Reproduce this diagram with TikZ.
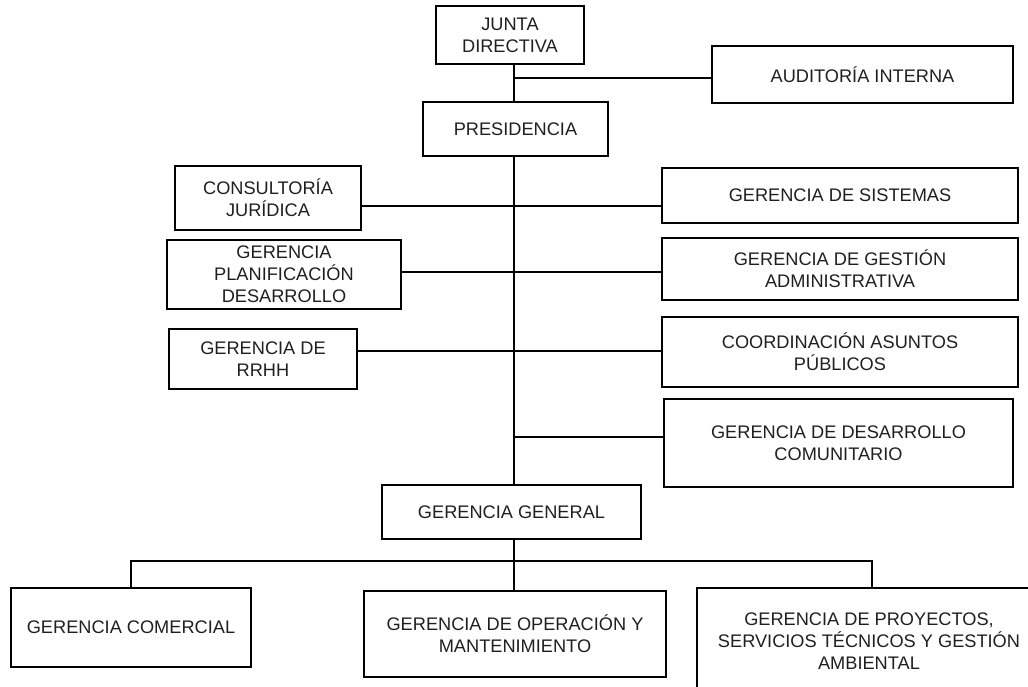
\documentclass[tikz,border=0pt]{standalone}
\usepackage{fontspec}
\setmainfont{Liberation Sans}
\begin{document}
\begin{tikzpicture}[x=1pt,y=-1pt,
  box/.style={draw, line width=2pt, align=center, inner sep=0pt,
    font=\fontsize{18.2}{22}\selectfont, text=black!88},
  conn/.style={line width=1.6pt}]
\useasboundingbox (0,0) rectangle (1028,687);
\clip (0,0) rectangle (1028,687);
% top
\node[box, minimum width=148pt, minimum height=58pt] (junta) at (510,35) {JUNTA\\DIRECTIVA};
\node[box, minimum width=185pt, minimum height=54pt] (pres) at (515.5,129) {PRESIDENCIA};
\node[box, minimum width=301pt, minimum height=57pt] (audit) at (862.5,74.5) {AUDITORÍA INTERNA};
% left column
\node[box, minimum width=186pt, minimum height=64pt] (consult) at (268,198) {CONSULTORÍA\\JURÍDICA};
\node[box, minimum width=234pt, minimum height=69pt] (planif) at (284,274.5) {GERENCIA\\PLANIFICACIÓN\\DESARROLLO};
\node[box, minimum width=188pt, minimum height=60pt] (rrhh) at (263,359) {GERENCIA DE\\RRHH};
% right column
\node[box, minimum width=356pt, minimum height=55pt] (sist) at (840,195.5) {GERENCIA DE SISTEMAS};
\node[box, minimum width=356pt, minimum height=62pt] (gest) at (840,269) {GERENCIA DE GESTIÓN\\ADMINISTRATIVA};
\node[box, minimum width=356pt, minimum height=70pt] (coord) at (840,352) {COORDINACIÓN ASUNTOS\\PÚBLICOS};
\node[box, minimum width=349pt, minimum height=88pt] (desarr) at (838.5,443) {GERENCIA DE DESARROLLO\\COMUNITARIO};
% general
\node[box, minimum width=259pt, minimum height=54pt] (gg) at (511.5,512) {GERENCIA GENERAL};
% bottom row
\node[box, minimum width=240pt, minimum height=79pt] (com) at (131,627.5) {GERENCIA COMERCIAL};
\node[box, minimum width=302pt, minimum height=86pt] (oper) at (515,634) {GERENCIA DE OPERACIÓN Y\\MANTENIMIENTO};
\node[box, minimum width=344pt, minimum height=106pt] (proy) at (869,641) {GERENCIA DE PROYECTOS,\\SERVICIOS TÉCNICOS Y GESTIÓN\\AMBIENTAL};
% reference coordinates
\coordinate (tx) at (514,0);
\coordinate (yaud) at (0,78);
\coordinate (y1) at (0,206);
\coordinate (y2) at (0,272);
\coordinate (y3) at (0,351);
\coordinate (y4) at (0,437);
\coordinate (ybus) at (0,561);
\coordinate (bl) at (131,0);
\coordinate (br) at (872,0);
% trunk
\draw[conn] (tx |- junta.south) -- (tx |- pres.north);
\draw[conn] (tx |- pres.south) -- (tx |- gg.north);
\draw[conn] (tx |- gg.south) -- (tx |- oper.north);
% branches
\draw[conn] (tx |- yaud) -- (audit.west |- yaud);
\draw[conn] (consult.east |- y1) -- (sist.west |- y1);
\draw[conn] (planif.east |- y2) -- (gest.west |- y2);
\draw[conn] (rrhh.east |- y3) -- (coord.west |- y3);
\draw[conn] (tx |- y4) -- (desarr.west |- y4);
% bottom bus
\draw[conn] (bl |- com.north) -- (bl |- ybus) -- (br |- ybus) -- (br |- proy.north);
\end{tikzpicture}
\end{document}
